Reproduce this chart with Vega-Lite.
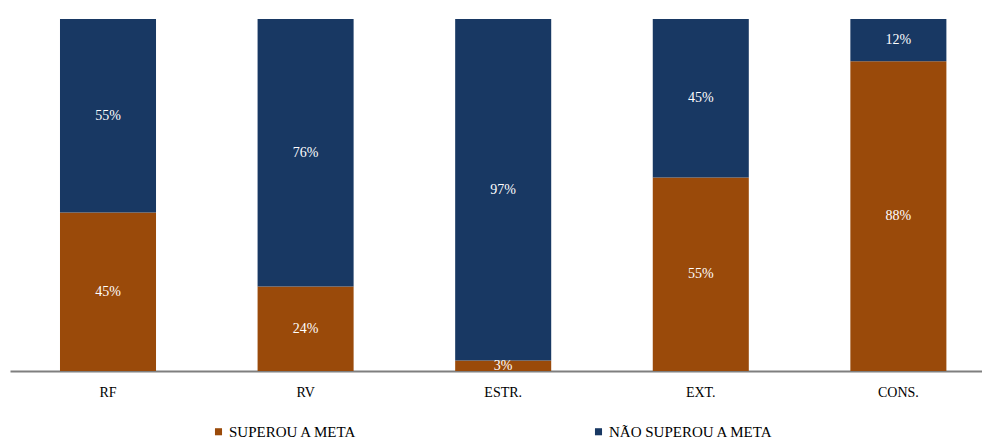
{
  "$schema": "https://vega.github.io/schema/vega-lite/v6.json",
  "width": 972,
  "height": 352,
  "autosize": {"type": "none"},
  "padding": {"left": 10, "top": 19, "right": 0, "bottom": 68},
  "config": {"view": {"stroke": null}, "font": "Liberation Serif"},
  "data": {
    "values": [
      {"cat": "RF", "s": "SUPEROU A META", "v": 0.45},
      {"cat": "RF", "s": "NÃO SUPEROU A META", "v": 0.55},
      {"cat": "RV", "s": "SUPEROU A META", "v": 0.24},
      {"cat": "RV", "s": "NÃO SUPEROU A META", "v": 0.76},
      {"cat": "ESTR.", "s": "SUPEROU A META", "v": 0.03},
      {"cat": "ESTR.", "s": "NÃO SUPEROU A META", "v": 0.97},
      {"cat": "EXT.", "s": "SUPEROU A META", "v": 0.55},
      {"cat": "EXT.", "s": "NÃO SUPEROU A META", "v": 0.45},
      {"cat": "CONS.", "s": "SUPEROU A META", "v": 0.88},
      {"cat": "CONS.", "s": "NÃO SUPEROU A META", "v": 0.12}
    ]
  },
  "transform": [
    {"stack": "v", "groupby": ["cat"], "as": ["v0", "v1"], "sort": [{"field": "s", "order": "descending"}]},
    {"calculate": "(datum.v0 + datum.v1) / 2", "as": "mid"}
  ],
  "encoding": {
    "x": {
      "field": "cat",
      "type": "nominal",
      "sort": ["RF", "RV", "ESTR.", "EXT.", "CONS."],
      "scale": {"paddingInner": 0.514, "paddingOuter": 0.2166, "align": 0.584},
      "axis": {
        "title": null,
        "labelAngle": 0,
        "ticks": false,
        "domainColor": "#7f7f7f",
        "domainWidth": 2,
        "labelFont": "Liberation Serif",
        "labelFontSize": 14,
        "labelColor": "#000000",
        "labelPadding": 14
      }
    }
  },
  "layer": [
    {
      "mark": {"type": "bar"},
      "encoding": {
        "y": {"field": "v0", "type": "quantitative", "scale": {"domain": [0, 1]}, "axis": null},
        "y2": {"field": "v1"},
        "color": {
          "field": "s",
          "type": "nominal",
          "scale": {"domain": ["SUPEROU A META", "NÃO SUPEROU A META"], "range": ["#9a4a0a", "#183863"]},
          "legend": {
            "title": null,
            "orient": "none",
            "legendX": 201,
            "legendY": 405,
            "direction": "horizontal",
            "padding": 0,
            "symbolType": "square",
            "symbolSize": 50,
            "symbolStrokeWidth": 0,
            "labelFont": "Liberation Serif",
            "labelFontSize": 15,
            "labelColor": "#000000",
            "labelOffset": 3,
            "columnPadding": 234,
            "labelLimit": 300
          }
        }
      }
    },
    {
      "mark": {"type": "text", "color": "#ffffff", "fontSize": 14, "font": "Liberation Serif"},
      "encoding": {
        "y": {"field": "mid", "type": "quantitative", "scale": {"domain": [0, 1]}},
        "text": {"field": "v", "type": "quantitative", "format": ".0%"}
      }
    }
  ]
}
